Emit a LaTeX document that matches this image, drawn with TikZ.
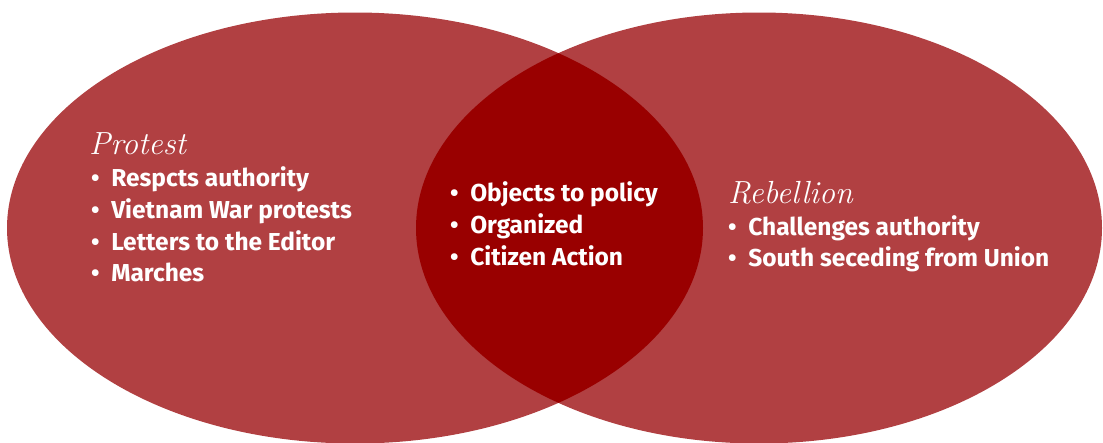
\documentclass[tikz,border=0pt]{standalone}
\usepackage{fontspec}
\setsansfont{Fira Sans}
\definecolor{outerred}{RGB}{177,64,66}
\definecolor{innerred}{RGB}{153,0,0}
\newcommand{\bul}{\textbullet\hspace{11.6pt}}
\tikzset{
  head/.style={anchor=base west,inner sep=0pt,text=white,font=\fontsize{32}{32}\selectfont\itshape},
  item/.style={anchor=base west,inner sep=0pt,text=white,font=\fontsize{24.5}{24.5}\selectfont\sffamily\bfseries}
}

\begin{document}
\begin{tikzpicture}[x=1pt,y=-1pt]
  \useasboundingbox (0,0) rectangle (1103,442);
  \fill[outerred] (355,228) ellipse [x radius=348, y radius=215.5];
  \fill[outerred] (759,228) ellipse [x radius=343, y radius=215.5];
  \begin{scope}
    \clip (355,228) ellipse [x radius=348, y radius=215.5];
    \fill[innerred] (759,228) ellipse [x radius=343, y radius=215.5];
  \end{scope}
  \node[head](protest) at (89,154){Protest};
  \node[item](p1) at (91,186.7){\bul Respcts authority};
  \node[item](p2) at (91,218.4){\bul Vietnam War protests};
  \node[item](p3) at (91,250.1){\bul Letters to the Editor};
  \node[item](p4) at (91,281.8){\bul Marches};
  \node[item](b1) at (450,201.7){\bul Objects to policy};
  \node[item](b2) at (450,233.4){\bul Organized};
  \node[item](b3) at (450,265.1){\bul Citizen Action};
  \node[head](rebellion) at (728,203){Rebellion};
  \node[item](r1) at (728,235){\bul Challenges authority};
  \node[item](r2) at (728,266.7){\bul South seceding from Union};
\end{tikzpicture}
\end{document}
